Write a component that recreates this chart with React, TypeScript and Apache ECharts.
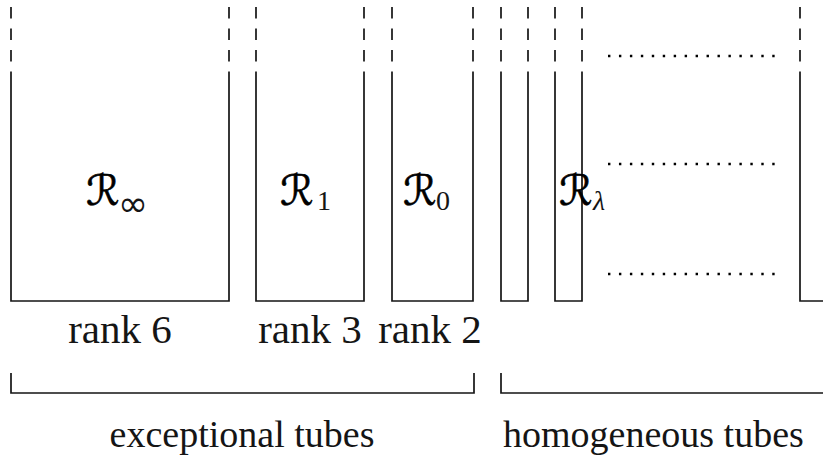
import React, { useEffect, useRef } from "react";
import * as echarts from "echarts";

// Diagram units (x: 0..823, y: 0..461, y downward)
const tubeLefts = [11, 256, 392, 501, 555, 800];
const tubeRights = [229, 364, 473, 528, 582, 870];
const tubeTop = 7;
const tubeSolidFrom = 72;
const tubeBottom = 301;

const dotRowY = [56, 164, 274];
const dotRowStart = 608;
const dotRowEnd = 775;

const bracketLefts = [11, 501];
const bracketRights = [474, 870];
const bracketTop = 373;
const bracketBottom = 393;

const tubeSubscripts = ["∞", "1", "0", "λ"];
const tubeLabelX = [86, 280, 403, 559];
const tubeSubX = [118, 317, 436, 593];
const tubeLabelY = 190;

const rankLabels = ["rank 6", "rank 3", "rank 2"];
const rankX = [120, 310, 430];
const rankY = 329;

const groupLabels = ["exceptional tubes", "homogeneous tubes"];
const groupX = [242, 503];
const groupAlign = ["center", "left"];
const groupY = 434;

const INK = "#151515";
const SERIF = "Liberation Serif, Times New Roman, serif";

export default function App() {
  const ref = useRef<HTMLDivElement>(null);
  useEffect(() => {
    document.body.style.margin = "0";
    const chart = echarts.init(ref.current!, undefined, { renderer: "svg" });
    const tubeData = tubeLefts.map((l, i) => [l, tubeRights[i]]);
    const dotData = dotRowY.map((y) => [dotRowStart, dotRowEnd, y]);
    const bracketData = bracketLefts.map((l, i) => [l, bracketRights[i]]);
    const tubeLabelData = tubeSubscripts.map((s, i) => [tubeLabelX[i], tubeSubX[i], tubeLabelY, i]);
    const rankData = rankLabels.map((_, i) => [rankX[i], rankY, i]);
    const groupData = groupLabels.map((_, i) => [groupX[i], groupY, i]);

    chart.setOption({
      animation: false,
      backgroundColor: "#ffffff",
      grid: { left: 0, right: 0, top: 0, bottom: 0 },
      xAxis: { type: "value", min: 0, max: 823, show: false },
      yAxis: { type: "value", min: 0, max: 461, inverse: true, show: false },
      series: [
        {
          type: "custom",
          data: tubeData,
          silent: true,
          renderItem: (_p: any, api: any) => {
            const [xl, yT] = api.coord([api.value(0), tubeTop]);
            const [xr] = api.coord([api.value(1), tubeTop]);
            const [, yS] = api.coord([api.value(0), tubeSolidFrom]);
            const [, yB] = api.coord([api.value(0), tubeBottom]);
            const dashStyle = { stroke: INK, lineWidth: 1.7, lineDash: [11.5, 10], fill: "none" };
            return {
              type: "group",
              children: [
                { type: "line", shape: { x1: xl, y1: yT, x2: xl, y2: yS }, style: dashStyle },
                { type: "line", shape: { x1: xr, y1: yT, x2: xr, y2: yS }, style: dashStyle },
                {
                  type: "polyline",
                  shape: { points: [[xl, yS], [xl, yB], [xr, yB], [xr, yS]] },
                  style: { stroke: INK, lineWidth: 1.7, fill: "none" },
                },
              ],
            };
          },
        },
        {
          type: "custom",
          data: dotData,
          silent: true,
          renderItem: (_p: any, api: any) => {
            const [x1, y] = api.coord([api.value(0), api.value(2)]);
            const [x2] = api.coord([api.value(1), api.value(2)]);
            return {
              type: "line",
              shape: { x1, y1: y, x2, y2: y },
              style: { stroke: "#000", lineWidth: 2.4, lineDash: [2.4, 8.55], fill: "none" },
            };
          },
        },
        {
          type: "custom",
          data: bracketData,
          silent: true,
          renderItem: (_p: any, api: any) => {
            const [xl, yT] = api.coord([api.value(0), bracketTop]);
            const [xr, yB] = api.coord([api.value(1), bracketBottom]);
            return {
              type: "polyline",
              shape: { points: [[xl, yT], [xl, yB], [xr, yB], [xr, yT]] },
              style: { stroke: INK, lineWidth: 1.7, fill: "none" },
            };
          },
        },
        {
          type: "custom",
          data: tubeLabelData,
          silent: true,
          renderItem: (_p: any, api: any) => {
            const idx = api.value(3);
            const sub = tubeSubscripts[idx];
            const [xR, y] = api.coord([api.value(0), api.value(2)]);
            const [xS] = api.coord([api.value(1), api.value(2)]);
            const isInf = sub === "∞";
            return {
              type: "group",
              children: [
                {
                  type: "text",
                  x: xR,
                  y,
                  style: {
                    text: "ℛ",
                    fontFamily: "DejaVu Sans",
                    fontSize: 42,
                    fill: "#000",
                    stroke: "#000",
                    lineWidth: 0.6,
                    align: "left",
                    verticalAlign: "middle",
                  },
                },
                {
                  type: "text",
                  x: xS,
                  y: y + (isInf ? 13 : 10),
                  style: {
                    text: sub,
                    fontFamily: isInf ? "DejaVu Sans" : SERIF,
                    fontStyle: sub === "λ" ? "italic" : "normal",
                    fontSize: isInf ? 36 : 28,
                    fill: INK,
                    align: "left",
                    verticalAlign: "middle",
                  },
                },
              ],
            };
          },
        },
        {
          type: "custom",
          data: rankData,
          silent: true,
          renderItem: (_p: any, api: any) => {
            const [x, y] = api.coord([api.value(0), api.value(1)]);
            return {
              type: "text",
              x,
              y,
              style: {
                text: rankLabels[api.value(2)],
                fontFamily: SERIF,
                fontSize: 41,
                fill: INK,
                align: "center",
                verticalAlign: "middle",
              },
            };
          },
        },
        {
          type: "custom",
          data: groupData,
          silent: true,
          renderItem: (_p: any, api: any) => {
            const [x, y] = api.coord([api.value(0), api.value(1)]);
            const i = api.value(2);
            return {
              type: "text",
              x,
              y,
              style: {
                text: groupLabels[i],
                fontFamily: SERIF,
                fontSize: 38,
                fill: INK,
                align: groupAlign[i],
                verticalAlign: "middle",
              },
            };
          },
        },
      ],
    });
    return () => chart.dispose();
  }, []);
  return <div ref={ref} style={{ width: 823, height: 461 }} />;
}
